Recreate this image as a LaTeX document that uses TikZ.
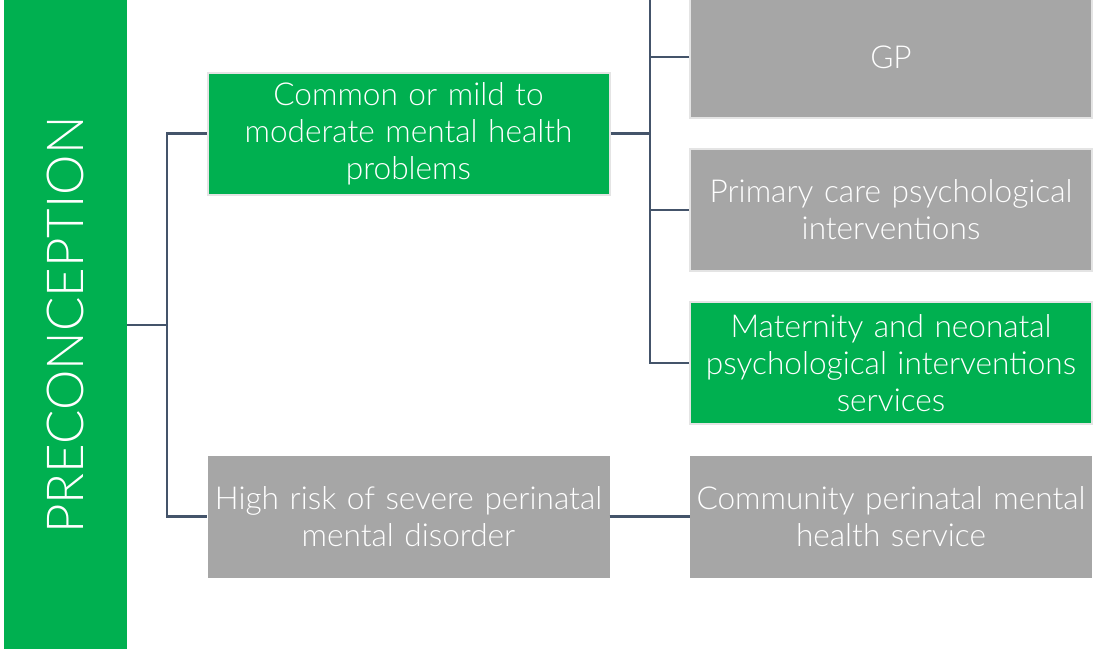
\documentclass[tikz,border=0pt]{standalone}
\usepackage{fontspec}
\setmainfont{Lato}[UprightFont=* Light]
\definecolor{pgreen}{HTML}{00B050}
\definecolor{pgray}{HTML}{A6A6A6}
\definecolor{pline}{HTML}{44546A}
\definecolor{pborder}{HTML}{E4E4E4}
\begin{document}
\begin{tikzpicture}[x=1pt,y=-1pt,
  box/.style={minimum width=402pt, minimum height=122pt, inner sep=0pt,
    text width=398pt, align=center, text=white,
    font=\fontsize{31.6}{37}\selectfont},
  gbox/.style={box, fill=pgreen, draw=pborder, line width=2pt},
  greybox/.style={box, fill=pgray, draw=pborder, line width=2pt},
  plainbox/.style={box, fill=pgray},
  bar/.style={rotate=90, fill=pgreen, minimum width=650pt, minimum height=123pt,
    inner sep=0pt, text=white, font=\fontsize{51}{53}\selectfont},
  conn/.style={draw=pline, line width=2.6pt}]
\useasboundingbox (0,0) rectangle (1094,648);
\clip (0,0) rectangle (1094,648);
\node[bar] (bar) at (65.5,325) {PRECONCEPTION};
\node[gbox] (box1) at (408.5,133.5) {Common or mild to\\moderate mental health\\problems};
\node[plainbox] (box2) at (408.5,516.5) {High risk of severe perinatal\\mental disorder};
\node[greybox] (gp) at (891,57) {GP};
\node[greybox] (prim) at (891,210) {Primary care psychological\\interventions};
\node[gbox] (mat) at (891,363) {Maternity and neonatal\\psychological interventions\\services};
\node[plainbox] (comm) at (891,516.5) {Community perinatal mental\\health service};
\coordinate (j1) at (167,325);
\coordinate (j2) at (650,-5);
\draw[conn] (bar.south) -- (j1);
\draw[conn] (box1.west) -| (j1) |- (box2.west);
\draw[conn] (box1.east) -- (box1.east -| j2);
\draw[conn] (j2) |- (mat.west);
\draw[conn] (gp.west) -- (gp.west -| j2);
\draw[conn] (prim.west) -- (prim.west -| j2);
\draw[conn] (box2.east) -- (comm.west);
\end{tikzpicture}
\end{document}
